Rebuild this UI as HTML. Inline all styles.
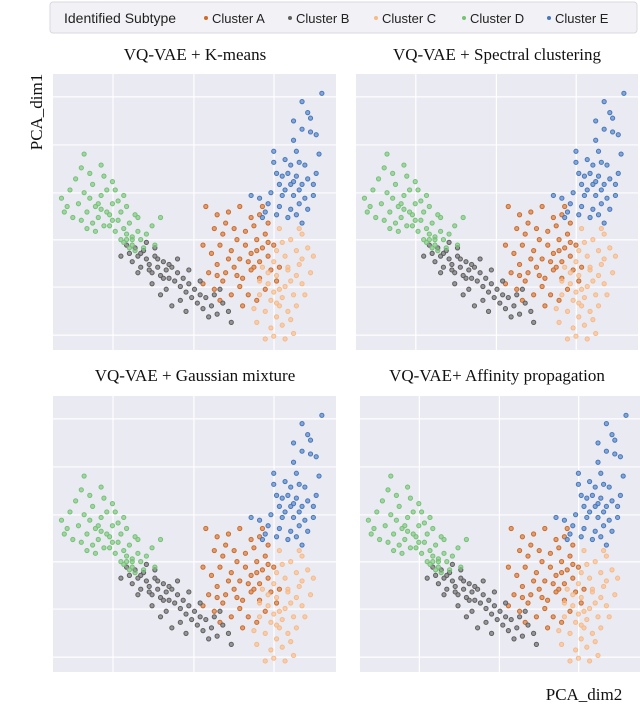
<!DOCTYPE html>
<html><head><meta charset="utf-8"><style>
html,body{margin:0;padding:0;background:#fff;}
svg{display:block;}
</style></head><body>
<svg id="chart" width="640" height="720" xmlns="http://www.w3.org/2000/svg">
  <g>
    <rect x="50" y="2" width="587" height="31" rx="3" fill="#f2f2f6" stroke="#d8d8e0"/>
    <text x="64" y="23" font-family="Liberation Sans, sans-serif" font-size="14" fill="#222">Identified Subtype</text>
    <g id="legendItems"></g>
  </g>
  <text transform="translate(42,112) rotate(-90)" text-anchor="middle" font-family="Liberation Serif, serif" font-size="17" fill="#111">PCA_dim1</text>
  <text x="584" y="700" text-anchor="middle" font-family="Liberation Serif, serif" font-size="17" fill="#111">PCA_dim2</text>
  <g id="panels"></g>
</svg>
<script>
const clusterNames = ["Cluster A","Cluster B","Cluster C","Cluster D","Cluster E"];
const clusterColors = ["#cf6a26","#5e5e5e","#f8b985","#74c274","#4577bd"];
const panelTitles = ["VQ-VAE  + K-means","VQ-VAE  + Spectral clustering","VQ-VAE  + Gaussian mixture","VQ-VAE+ Affinity propagation"];
const xTicks = [21.2, 49.8, 78.1];
const yTicks = [91.7, 74.3, 56.9, 39.9, 22.8, 5.4];
const pointsA = [[54,52],[58,49],[62,50],[66,52],[70,48],[73,49],[76,46],[60,42],[64,44],[68,43],[72,40],[75,42],[78,38],[56,35],[59,38],[63,36],[66,33],[70,35],[73,32],[76,34],[55,28],[58,31],[61,28],[64,30],[67,26],[70,29],[73,26],[77,29],[53,24],[57,22],[60,25],[63,20],[66,23],[69,20],[72,18],[75,22],[79,25],[62,33],[68,38],[71,45],[74,37],[65,40],[57,44],[53,38],[80,30],[59,18],[67,16],[71,30],[61,46],[74,52],[65,27],[69,32],[72,36],[58,27],[76,39]];
const pointsB = [[24,34],[26,38],[27,35],[28,32],[29,37],[30,34],[31,30],[32,36],[33,33],[34,31],[35,28],[36,34],[37,30],[38,27],[39,32],[40,29],[41,26],[42,30],[43,25],[44,28],[45,23],[46,26],[47,21],[48,24],[49,19],[50,22],[51,17],[52,20],[53,15],[54,19],[56,16],[57,20],[58,13],[60,17],[62,14],[55,12],[45,18],[40,22],[35,24],[33,39],[36,37],[44,33],[48,29],[52,25],[30,28],[38,20],[42,16],[59,22],[47,14],[63,10],[31,35],[34,29],[37,33],[39,26],[41,31]];
const pointsC = [[80,44],[84,40],[88,42],[90,37],[86,36],[82,34],[78,32],[74,30],[79,27],[83,29],[87,31],[91,28],[76,24],[80,22],[84,25],[88,24],[73,20],[77,18],[81,19],[85,20],[75,14],[79,12],[83,14],[86,16],[72,10],[77,8],[81,9],[84,11],[78,5],[82,4],[88,33],[92,34],[86,27],[80,16],[76,28],[73,25],[85,6],[79,36],[71,15],[89,20],[75,4],[83,30],[87,44],[81,39],[78,21],[82,23],[79,17]];
const pointsD = [[3,55],[5,52],[6,58],[4,50],[8,62],[10,66],[7,48],[9,53],[11,57],[12,50],[13,55],[14,60],[15,52],[16,48],[17,56],[18,63],[19,50],[20,45],[21,53],[22,58],[23,47],[24,50],[25,44],[26,52],[27,46],[28,41],[29,49],[30,43],[31,40],[33,42],[35,45],[36,38],[14,46],[12,44],[18,45],[20,49],[22,43],[24,40],[26,40],[28,38],[10,47],[16,53],[19,58],[21,61],[13,64],[17,67],[11,71],[25,56],[30,48],[38,48],[23,54],[15,43],[27,37],[32,37],[29,36],[26,42],[28,40],[25,39],[17,51],[21,47]];
const pointsE = [[95,93],[88,90],[90,86],[85,83],[88,80],[91,79],[93,78],[85,76],[94,71],[78,72],[82,69],[84,67],[87,68],[89,67],[79,64],[83,64],[86,63],[90,62],[80,60],[84,60],[88,60],[92,60],[77,57],[81,56],[85,56],[89,55],[92,56],[76,53],[80,52],[84,51],[87,53],[90,51],[73,55],[70,56],[75,50],[79,49],[83,48],[86,49],[88,46],[74,48],[87,58],[81,63],[93,64],[78,68],[91,84],[86,72],[85,61],[82,58]];

const NS = "http://www.w3.org/2000/svg";
const clusters = [pointsA, pointsB, pointsC, pointsD, pointsE];
const panels = [
  {x:53,y:74,w:283,h:276,tx:195,ty:60},
  {x:356,y:74,w:282,h:276,tx:497,ty:60},
  {x:53,y:396,w:283,h:276,tx:195,ty:381},
  {x:360,y:396,w:280,h:276,tx:497,ty:381}
];
function mk(tag, attrs){const e=document.createElementNS(NS,tag);for(const k in attrs)e.setAttribute(k,attrs[k]);return e;}

const leg = document.getElementById('legendItems');
const legX = [206, 290, 376, 464, 549];
clusterNames.forEach((n,i)=>{
  const g = mk('g',{});
  
  
  g.appendChild(mk('circle',{cx:legX[i],cy:18,r:2,fill:clusterColors[i]}));
  const t = mk('text',{x:legX[i]+6,y:23,'font-family':'Liberation Sans, sans-serif','font-size':'13',fill:'#222'});
  t.textContent = n;
  g.appendChild(t);
  leg.appendChild(g);
});

const root = document.getElementById('panels');
panels.forEach((p,pi)=>{
  const sx = v => p.x + v/100*p.w;
  const sy = v => p.y + p.h - v/100*p.h;
  const g = mk('g',{});
  
  
  const bg = mk('rect',{x:p.x,y:p.y,width:p.w,height:p.h,fill:'#eaeaf2'});
  
  
  g.appendChild(bg);
  xTicks.forEach(t=>{
    const l = mk('line',{x1:sx(t),x2:sx(t),y1:p.y,y2:p.y+p.h,stroke:'#fff','stroke-width':1.2});
    
    
    g.appendChild(l);
  });
  yTicks.forEach(t=>{
    const l = mk('line',{x1:p.x,x2:p.x+p.w,y1:sy(t),y2:sy(t),stroke:'#fff','stroke-width':1.2});
    
    
    g.appendChild(l);
  });
  clusters.forEach((pts,ci)=>{
    pts.forEach(pt=>{
      const c = mk('circle',{cx:sx(pt[0]),cy:sy(pt[1]),r:2.1,fill:clusterColors[ci],'fill-opacity':0.6,stroke:clusterColors[ci],'stroke-width':1});
      
      
      g.appendChild(c);
    });
  });
  const t = mk('text',{x:p.tx,y:p.ty,'text-anchor':'middle','font-family':'Liberation Serif, serif','font-size':'17',fill:'#111'});
  t.textContent = panelTitles[pi];
  
  
  g.appendChild(t);
  root.appendChild(g);
});
</script>
</body></html>
